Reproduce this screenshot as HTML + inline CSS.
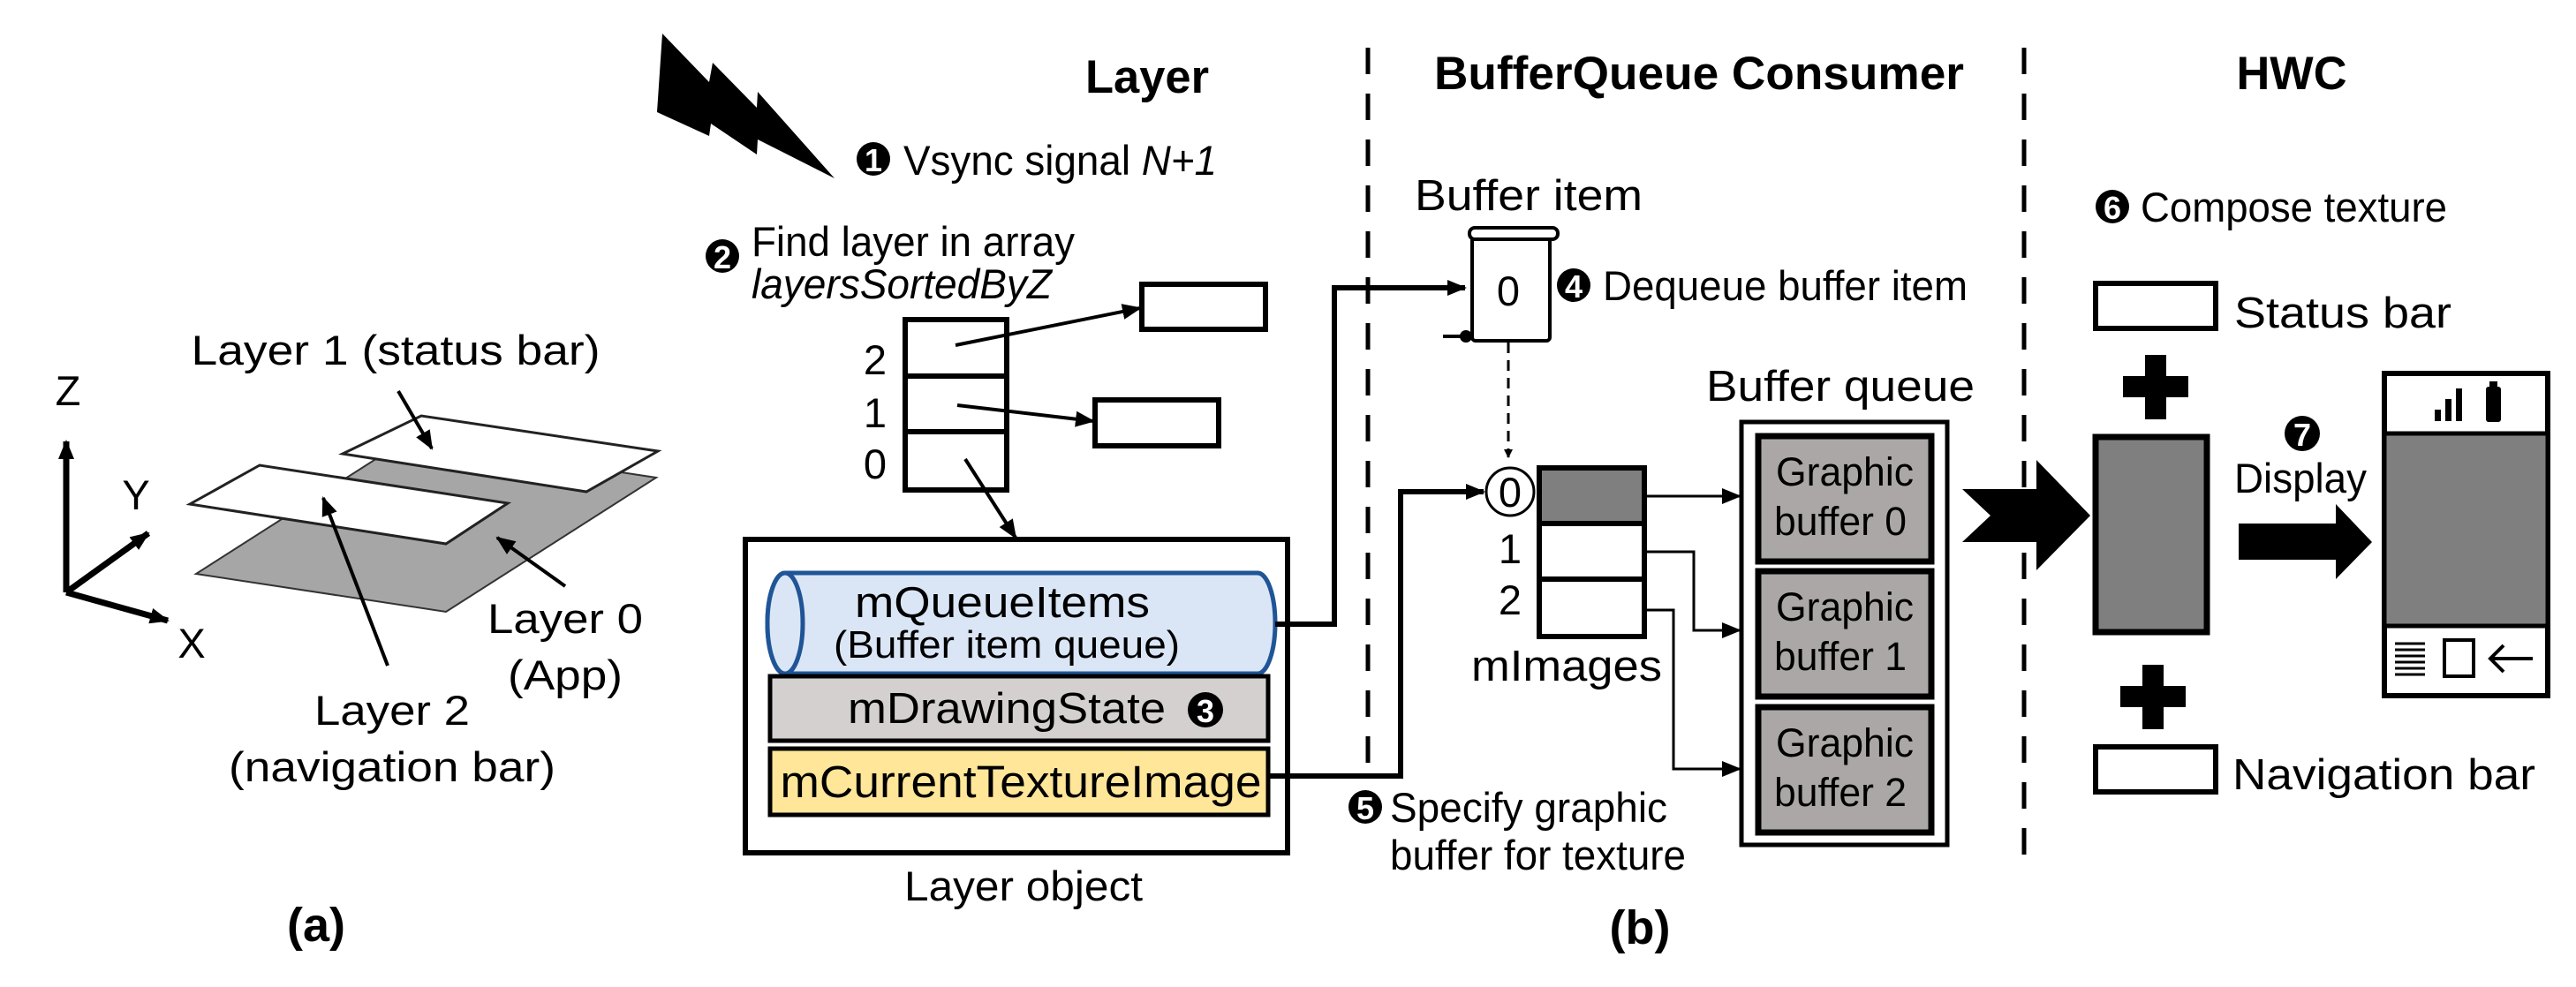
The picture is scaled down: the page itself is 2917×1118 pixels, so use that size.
<!DOCTYPE html>
<html><head><meta charset="utf-8"><style>html,body{margin:0;padding:0;background:#fff}svg{display:block}</style></head>
<body>
<svg width="2917" height="1118" viewBox="0 0 2917 1118" xmlns="http://www.w3.org/2000/svg" font-family="Liberation Sans, Arial, sans-serif">
<defs>
<marker id="ah" markerWidth="10" markerHeight="10" refX="9" refY="5" orient="auto" markerUnits="userSpaceOnUse" viewBox="0 0 10 10"><path d="M0,0 L10,5 L0,10 z" fill="#000"/></marker>
<marker id="ah2" markerWidth="22" markerHeight="22" refX="20" refY="11" orient="auto" markerUnits="userSpaceOnUse" viewBox="0 0 22 22"><path d="M0,2 L22,11 L0,20 z" fill="#000"/></marker>
</defs>

<!-- (a) -->
<polygon points="222,650 505,693 743,541 460,498" fill="#a6a6a6" stroke="#333" stroke-width="2"/>
<polygon points="388,514 664,557 745,511 477,471" fill="#fff" stroke="#222" stroke-width="3"/>
<polygon points="215,571 505,616 575,570 294,527" fill="#fff" stroke="#222" stroke-width="3"/>
<g stroke="#000" stroke-width="7" fill="none">
<line x1="75" y1="671" x2="75" y2="500" marker-end="url(#ah2)"/>
<line x1="75" y1="671" x2="168" y2="604" marker-end="url(#ah2)"/>
<line x1="75" y1="671" x2="190" y2="703" marker-end="url(#ah2)"/>
</g>
<g stroke="#000" stroke-width="4" fill="none">
<line x1="451" y1="443" x2="489" y2="508" marker-end="url(#ah2)"/>
<line x1="439" y1="754" x2="366" y2="564" marker-end="url(#ah2)"/>
<line x1="640" y1="664" x2="563" y2="609" marker-end="url(#ah2)"/>
</g>
<g font-size="47" fill="#000" text-anchor="middle">
<text x="77" y="459">Z</text>
<text x="154" y="577">Y</text>
<text x="217" y="745">X</text>
<text x="448" y="413" textLength="463" lengthAdjust="spacingAndGlyphs">Layer 1 (status bar)</text>
<text x="640" y="717" textLength="176" lengthAdjust="spacingAndGlyphs">Layer 0</text>
<text x="640" y="781" textLength="130" lengthAdjust="spacingAndGlyphs">(App)</text>
<text x="444" y="821" textLength="176" lengthAdjust="spacingAndGlyphs">Layer 2</text>
<text x="444" y="885" textLength="370" lengthAdjust="spacingAndGlyphs">(navigation bar)</text>
</g>
<text x="358" y="1066" font-size="54" font-weight="bold" text-anchor="middle">(a)</text>

<!-- lightning -->
<polygon points="750,38 803,93 807,71 857,122 858,104 945,202 858,158 857,175 805,140 803,154 744,127" fill="#000"/>

<!-- Layer section -->
<text x="1299" y="105" font-size="53" font-weight="bold" text-anchor="middle" textLength="140" lengthAdjust="spacingAndGlyphs">Layer</text>
<circle cx="989" cy="180" r="19" fill="#000"/><text x="989" y="194" font-size="36" font-weight="bold" fill="#fff" text-anchor="middle">1</text>
<text x="1023" y="198" font-size="47" textLength="355" lengthAdjust="spacingAndGlyphs">Vsync signal <tspan font-style="italic">N+1</tspan></text>
<circle cx="818" cy="290" r="19" fill="#000"/><text x="818" y="304" font-size="36" font-weight="bold" fill="#fff" text-anchor="middle">2</text>
<text x="851" y="290" font-size="47" textLength="366" lengthAdjust="spacingAndGlyphs">Find layer in array</text>
<text x="851" y="338" font-size="47" font-style="italic" textLength="340" lengthAdjust="spacingAndGlyphs">layersSortedByZ</text>

<g fill="#fff" stroke="#000" stroke-width="6">
<rect x="1025" y="362" width="115" height="64"/>
<rect x="1025" y="426" width="115" height="63"/>
<rect x="1025" y="489" width="115" height="66"/>
<rect x="1293" y="322" width="140" height="51"/>
<rect x="1240" y="453" width="140" height="52"/>
</g>
<g font-size="47" text-anchor="middle">
<text x="991" y="424">2</text><text x="991" y="484">1</text><text x="991" y="542">0</text>
</g>
<g stroke="#000" stroke-width="4" fill="none">
<line x1="1082" y1="391" x2="1291" y2="349" marker-end="url(#ah2)"/>
<line x1="1084" y1="459" x2="1238" y2="477" marker-end="url(#ah2)"/>
<line x1="1093" y1="520" x2="1150" y2="609" marker-end="url(#ah2)"/>
</g>

<rect x="844" y="611" width="614" height="355" fill="#fff" stroke="#000" stroke-width="6"/>
<!-- cylinder -->
<path d="M889,649 L1424,649 A20,57 0 0 1 1424,763 L889,763 A20,57 0 0 1 889,649 Z" fill="#dae6f6" stroke="#1f5597" stroke-width="5"/>
<ellipse cx="889" cy="706" rx="20" ry="57" fill="#dae6f6" stroke="#1f5597" stroke-width="5"/>
<text x="1135" y="699" font-size="49" text-anchor="middle" textLength="334" lengthAdjust="spacingAndGlyphs">mQueueItems</text>
<text x="1140" y="745" font-size="44" text-anchor="middle" textLength="392" lengthAdjust="spacingAndGlyphs">(Buffer item queue)</text>
<rect x="872" y="766" width="564" height="73" fill="#d4d0d0" stroke="#000" stroke-width="5"/>
<text x="1140" y="819" font-size="49" text-anchor="middle" textLength="360" lengthAdjust="spacingAndGlyphs">mDrawingState</text>
<circle cx="1365" cy="804" r="20" fill="#000"/><text x="1365" y="818" font-size="36" font-weight="bold" fill="#fff" text-anchor="middle">3</text>
<rect x="872" y="848" width="564" height="75" fill="#ffe699" stroke="#000" stroke-width="5"/>
<text x="1156" y="903" font-size="51" text-anchor="middle" textLength="545" lengthAdjust="spacingAndGlyphs">mCurrentTextureImage</text>
<text x="1159" y="1020" font-size="47" text-anchor="middle" textLength="270" lengthAdjust="spacingAndGlyphs">Layer object</text>

<!-- dashed dividers -->
<line x1="1549" y1="54" x2="1549" y2="880" stroke="#000" stroke-width="5" stroke-dasharray="30,22"/>
<line x1="2292" y1="54" x2="2292" y2="982" stroke="#000" stroke-width="5" stroke-dasharray="30,22"/>

<!-- BufferQueue consumer -->
<text x="1924" y="101" font-size="53" font-weight="bold" text-anchor="middle" textLength="600" lengthAdjust="spacingAndGlyphs">BufferQueue Consumer</text>
<text x="2595" y="101" font-size="53" font-weight="bold" text-anchor="middle" textLength="125" lengthAdjust="spacingAndGlyphs">HWC</text>
<text x="1731" y="238" font-size="49" text-anchor="middle" textLength="258" lengthAdjust="spacingAndGlyphs">Buffer item</text>
<!-- scroll -->
<rect x="1667" y="264" width="88" height="122" rx="4" fill="#fff" stroke="#000" stroke-width="4"/>
<rect x="1664" y="258" width="100" height="13" rx="6" fill="#fff" stroke="#000" stroke-width="4"/>
<line x1="1634" y1="381" x2="1667" y2="381" stroke="#000" stroke-width="4"/>
<circle cx="1660" cy="381" r="7" fill="#000"/>
<text x="1708" y="346" font-size="47" text-anchor="middle">0</text>
<circle cx="1782" cy="323" r="19" fill="#000"/><text x="1782" y="337" font-size="36" font-weight="bold" fill="#fff" text-anchor="middle">4</text>
<text x="1815" y="340" font-size="47" textLength="413" lengthAdjust="spacingAndGlyphs">Dequeue buffer item</text>
<line x1="1708" y1="388" x2="1708" y2="518" stroke="#000" stroke-width="3" stroke-dasharray="12,8" marker-end="url(#ah)"/>
<polyline points="1444,707 1511,707 1511,326 1659,326" fill="none" stroke="#000" stroke-width="6" marker-end="url(#ah2)"/>
<polyline points="1436,879 1586,879 1586,557 1680,557" fill="none" stroke="#000" stroke-width="6" marker-end="url(#ah2)"/>

<circle cx="1710" cy="557" r="27" fill="#fff" stroke="#000" stroke-width="3"/>
<text x="1710" y="574" font-size="47" text-anchor="middle">0</text>
<rect x="1743" y="530" width="119" height="63" fill="#7f7f7f" stroke="#000" stroke-width="6"/>
<rect x="1743" y="593" width="119" height="63" fill="#fff" stroke="#000" stroke-width="6"/>
<rect x="1743" y="656" width="119" height="65" fill="#fff" stroke="#000" stroke-width="6"/>
<text x="1710" y="638" font-size="47" text-anchor="middle">1</text>
<text x="1710" y="696" font-size="47" text-anchor="middle">2</text>
<text x="1774" y="771" font-size="49" text-anchor="middle" textLength="216" lengthAdjust="spacingAndGlyphs">mImages</text>
<circle cx="1546" cy="914" r="19" fill="#000"/><text x="1546" y="928" font-size="36" font-weight="bold" fill="#fff" text-anchor="middle">5</text>
<text x="1574" y="931" font-size="47" textLength="314" lengthAdjust="spacingAndGlyphs">Specify graphic</text>
<text x="1574" y="985" font-size="47" textLength="335" lengthAdjust="spacingAndGlyphs">buffer for texture</text>

<text x="2084" y="454" font-size="49" text-anchor="middle" textLength="304" lengthAdjust="spacingAndGlyphs">Buffer queue</text>
<rect x="1972" y="478" width="233" height="479" fill="#fff" stroke="#000" stroke-width="5"/>
<g fill="#aca7a7" stroke="#000" stroke-width="7">
<rect x="1991" y="494" width="196" height="142"/>
<rect x="1991" y="647" width="196" height="142"/>
<rect x="1991" y="801" width="196" height="142"/>
</g>
<g font-size="45" text-anchor="middle">
<text x="2089" y="550" textLength="156" lengthAdjust="spacingAndGlyphs">Graphic</text><text x="2084" y="606" textLength="150" lengthAdjust="spacingAndGlyphs">buffer 0</text>
<text x="2089" y="703" textLength="156" lengthAdjust="spacingAndGlyphs">Graphic</text><text x="2084" y="759" textLength="150" lengthAdjust="spacingAndGlyphs">buffer 1</text>
<text x="2089" y="857" textLength="156" lengthAdjust="spacingAndGlyphs">Graphic</text><text x="2084" y="913" textLength="150" lengthAdjust="spacingAndGlyphs">buffer 2</text>
</g>
<g fill="none" stroke="#000" stroke-width="3">
<polyline points="1862,562 1970,562" marker-end="url(#ah2)"/>
<polyline points="1862,625 1918,625 1918,714 1970,714" marker-end="url(#ah2)"/>
<polyline points="1862,691 1895,691 1895,871 1970,871" marker-end="url(#ah2)"/>
</g>
<polygon points="2222,554 2306,554 2306,521 2367,584 2306,646 2306,614 2222,614 2254,584" fill="#000"/>

<!-- HWC -->
<circle cx="2392" cy="234" r="19" fill="#000"/><text x="2392" y="248" font-size="36" font-weight="bold" fill="#fff" text-anchor="middle">6</text>
<text x="2424" y="251" font-size="47" textLength="347" lengthAdjust="spacingAndGlyphs">Compose texture</text>
<rect x="2373" y="321" width="136" height="51" fill="#fff" stroke="#000" stroke-width="6"/>
<text x="2530" y="371" font-size="49" textLength="246" lengthAdjust="spacingAndGlyphs">Status bar</text>
<rect x="2429" y="402" width="24" height="73" fill="#000"/><rect x="2404" y="426" width="74" height="24" fill="#000"/>
<rect x="2373" y="495" width="126" height="221" fill="#7f7f7f" stroke="#000" stroke-width="7"/>
<rect x="2426" y="753" width="24" height="73" fill="#000"/><rect x="2401" y="777" width="74" height="24" fill="#000"/>
<rect x="2373" y="846" width="136" height="51" fill="#fff" stroke="#000" stroke-width="6"/>
<text x="2528" y="894" font-size="49" textLength="343" lengthAdjust="spacingAndGlyphs">Navigation bar</text>
<circle cx="2607" cy="491" r="20" fill="#000"/><text x="2607" y="505" font-size="36" font-weight="bold" fill="#fff" text-anchor="middle">7</text>
<text x="2530" y="558" font-size="47" textLength="150" lengthAdjust="spacingAndGlyphs">Display</text>
<polygon points="2535,593 2645,593 2645,571 2686,614 2645,656 2645,634 2535,634" fill="#000"/>
<!-- phone -->
<rect x="2700" y="423" width="185" height="365" fill="#fff" stroke="#000" stroke-width="6"/>
<rect x="2700" y="491" width="185" height="218" fill="#7f7f7f" stroke="#000" stroke-width="5"/>
<g fill="#000">
<rect x="2757" y="464" width="7" height="13"/><rect x="2769" y="452" width="7" height="25"/><rect x="2781" y="440" width="7" height="37"/>
<rect x="2815" y="438" width="17" height="40" rx="3"/><rect x="2819" y="432" width="9" height="7"/>
</g>
<g stroke="#000" stroke-width="3" fill="none">
<line x1="2712" y1="729" x2="2746" y2="729"/><line x1="2712" y1="736" x2="2746" y2="736"/><line x1="2712" y1="743" x2="2746" y2="743"/><line x1="2712" y1="750" x2="2746" y2="750"/><line x1="2712" y1="757" x2="2746" y2="757"/><line x1="2712" y1="764" x2="2746" y2="764"/>
<rect x="2768" y="725" width="33" height="41" stroke-width="4"/>
<polyline points="2835,731 2820,746 2835,761" stroke-width="4"/><line x1="2820" y1="746" x2="2868" y2="746" stroke-width="4"/>
</g>

<text x="1857" y="1069" font-size="54" font-weight="bold" text-anchor="middle">(b)</text>
</svg>
</body></html>
